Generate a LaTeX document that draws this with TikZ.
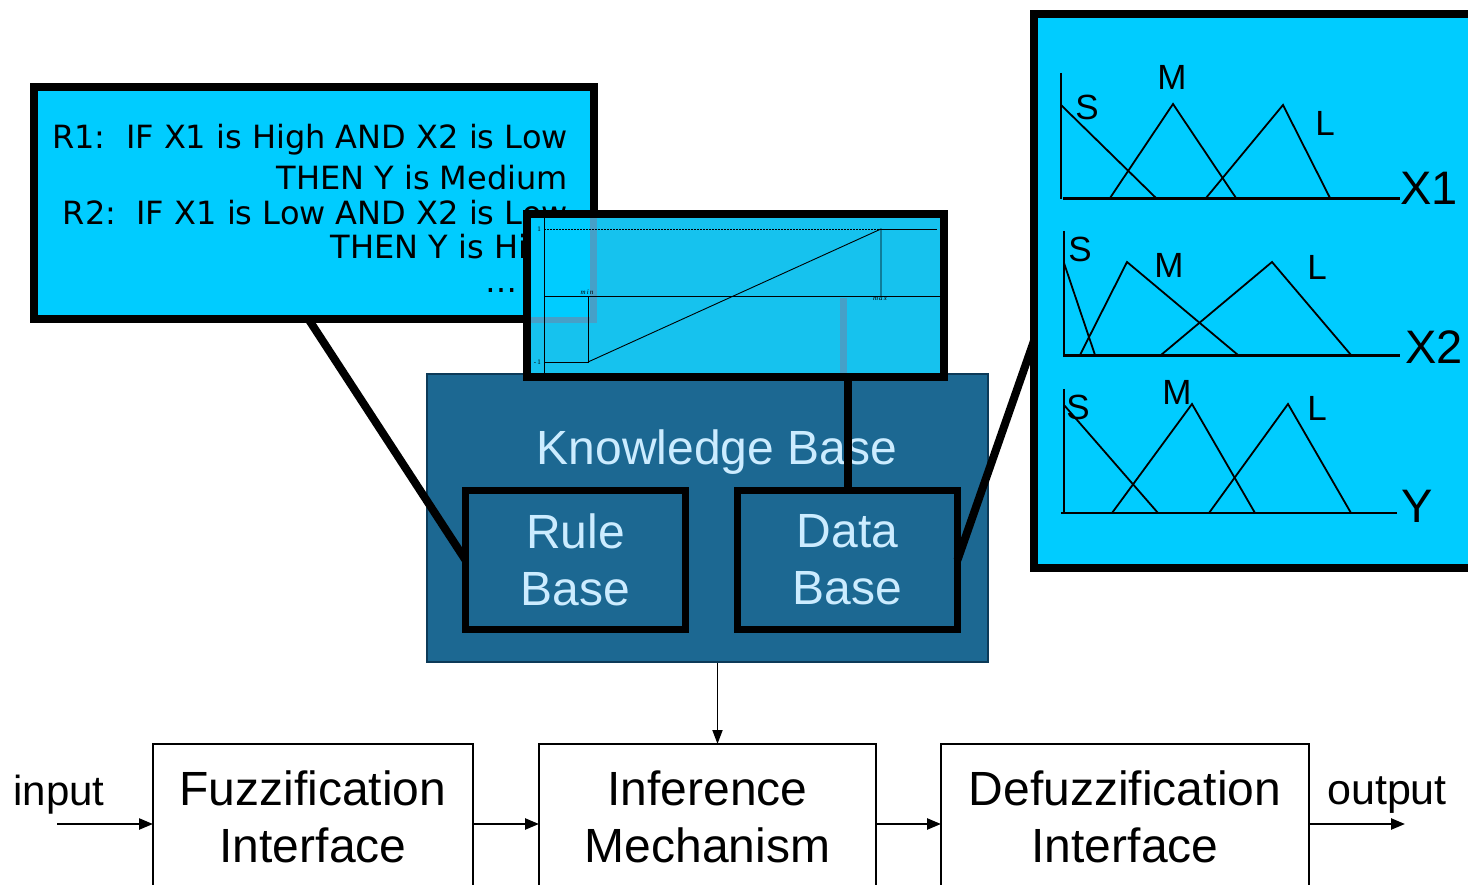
\documentclass[tikz,border=0pt]{standalone}
\usepackage{fontspec}
\setmainfont{Liberation Sans}
\newfontfamily\rulefont{DejaVu Sans}
\newfontfamily\plotfont{Liberation Serif}
\usetikzlibrary{arrows.meta, calc}

\begin{document}
\begin{tikzpicture}[x=1pt,y=-1pt,
  panel/.style={draw=black,line width=8pt,inner sep=0pt,outer sep=0pt},
  kbbox/.style={draw=black,line width=7pt,fill=kbblue,inner sep=0pt,outer sep=0pt,
    text=kbtext,align=center,font=\fontsize{48}{57}\selectfont},
  block/.style={draw=black,line width=1.6pt,inner sep=0pt,outer sep=0pt,
    align=center,font=\fontsize{48}{57}\selectfont,text depth=14pt},
  ruletext/.style={font=\rulefont\fontsize{32}{32}\selectfont,inner sep=0pt,
    text height=23pt,text depth=0pt},
  flow/.style={line width=2.4pt,-{Triangle[length=14pt,width=11pt]}},
  link/.style={line width=8pt},
  mf/.style={line width=1.8pt},
  mflabel/.style={font=\fontsize{35}{35}\selectfont,inner sep=0pt,
    text height=25pt,text depth=0pt},
  axislabel/.style={font=\fontsize{47}{47}\selectfont,inner sep=0pt,
    text height=34pt,text depth=0pt},
  ticklabel/.style={font=\plotfont\fontsize{7}{7}\selectfont,inner sep=0pt}]
  \definecolor{cyanpanel}{RGB}{0,204,255}
  \definecolor{dotcyan}{RGB}{22,194,238}
  \definecolor{dotshade}{RGB}{70,160,200}
  \definecolor{kbblue}{RGB}{28,104,146}
  \definecolor{kbline}{RGB}{12,58,88}
  \definecolor{kbtext}{RGB}{204,236,255}

  \useasboundingbox (0,0) rectangle (1468,885);
  \clip (0,0) rectangle (1468,885);

  % knowledge base with its two parts
  \node[draw=kbline,line width=1.2pt,fill=kbblue,minimum width=561,minimum height=288,
    inner sep=0pt] (kb) at (707.5,518) {};
  \node[font=\fontsize{48}{48}\selectfont,text=kbtext,inner sep=0pt,
    text height=34pt,text depth=0pt] (kbtitle) at (717,447) {Knowledge Base};
  \node[kbbox,minimum width=220,minimum height=139] (rulebase) at (575.5,560) {Rule\\Base};
  \node[kbbox,minimum width=220,minimum height=139] (database) at (847.5,560) {Data\\Base};

  % rule panel
  \node[panel,fill=cyanpanel,minimum width=560,minimum height=232] (rules) at (314,203) {};
  \foreach \ypos/\ruletxt in {137/{R1:\ \ IF X1 is High AND X2 is Low},
                              178/{THEN Y is Medium},
                              213/{R2:\ \ IF X1 is Low AND X2 is Low},
                              247/{THEN Y is High}}
    \node[ruletext,anchor=east] at (568,\ypos) {\ruletxt};
  \node[ruletext,anchor=base east] (dots) at (518,293) {\dots};

  % zoom lines
  \coordinate (rulefoot) at ($(rules.south west)!0.49!(rules.south east)$);
  \draw[link] (rulefoot) -- (rulebase.west);

  % normalisation panel
  \node[panel,fill=dotcyan,minimum width=417,minimum height=163] (midpanel) at (735.5,295.5) {};
  \fill[cyanpanel] (531,218) rectangle (590,317);
  \fill[dotshade] (590,218) rectangle (597,323);
  \fill[dotshade] (531,317) rectangle (597,323);
  \fill[dotshade] (840,298) rectangle (847,373);
  \begin{scope}[line width=0.9pt]
    \draw (544,218) -- (544,376);
    \draw[dash pattern=on 2pt off 1pt] (544,229) -- (881,229);
    \draw (881,229) -- (937,229);
    \draw (544,296) -- (942,296);
    \draw (544,362) -- (588,362) -- (588,296);
    \draw (588,362) -- (881,229) -- (881,296);
  \end{scope}
  \node[ticklabel,anchor=east] (one) at (541,229) {1};
  \node[ticklabel,anchor=east] (minusone) at (541,362) {-\,1};
  \node[ticklabel,anchor=south] (minlbl) at (587,295) {\itshape m\,i\,n};
  \node[ticklabel,anchor=north] (maxlbl) at (880,297) {\itshape m\,a\,x};
  \draw[link] (database.north |- midpanel.south) -- (database.north);

  % membership panel
  \node[panel,fill=cyanpanel,minimum width=466,minimum height=554] (mfpanel) at (1267,291) {};
  \coordinate (mffoot) at ($(mfpanel.north west)!0.59!(mfpanel.south west)$);
  \draw[link] (mffoot) -- (database.east);

  % X1
  \draw[mf] (1061,73) -- (1061,199);
  \draw[line width=3pt] (1063,199) -- (1400,199);
  \draw[mf] (1061,105) -- (1156,198);
  \draw[mf] (1110,198) -- (1173,104) -- (1236,198);
  \draw[mf] (1206,198) -- (1283,105) -- (1330,198);
  \node[mflabel] (s1) at (1087,107) {S};
  \node[mflabel] (m1) at (1172,77) {M};
  \node[mflabel] (l1) at (1325,123) {L};
  \node[axislabel] (x1) at (1429,188) {X1};

  % X2
  \draw[mf] (1064,231) -- (1064,357);
  \draw[line width=3pt] (1063,356) -- (1400,356);
  \draw[mf] (1064,263) -- (1095,355);
  \draw[mf] (1080,355) -- (1127,262) -- (1238,355);
  \draw[mf] (1161,355) -- (1272,262) -- (1351,355);
  \node[mflabel] (s2) at (1080,249) {S};
  \node[mflabel] (m2) at (1169,265) {M};
  \node[mflabel] (l2) at (1317,267) {L};
  \node[axislabel] (x2) at (1434,347) {X2};

  % Y
  \draw[mf] (1064,389) -- (1064,514);
  \draw[line width=2pt] (1061,513) -- (1397,513);
  \draw[mf] (1064,405) -- (1158,513);
  \draw[mf] (1112,513) -- (1192,404) -- (1255,513);
  \draw[mf] (1209,513) -- (1288,404) -- (1351,513);
  \node[mflabel] (s3) at (1078,407) {S};
  \node[mflabel] (m3) at (1177,392) {M};
  \node[mflabel] (l3) at (1317,408) {L};
  \node[axislabel] (y) at (1417,505) {Y};

  % controller chain
  \node[block,minimum width=320,minimum height=160] (fuzz) at (313,824) {Fuzzification\\Interface};
  \node[block,minimum width=337,minimum height=160] (infer) at (707.5,824) {Inference\\Mechanism};
  \node[block,minimum width=368,minimum height=160] (defuzz) at (1125,824) {Defuzzification\\Interface};

  \coordinate (inend) at (57,824);
  \coordinate (outend) at (1405,824);
  \node[font=\fontsize{42}{42}\selectfont,inner sep=0pt] (input) at (59,795) {input};
  \node[font=\fontsize{43}{43}\selectfont,inner sep=0pt] (output) at (1387,795) {output};

  \draw[flow] (inend) -- (fuzz.west);
  \draw[flow] (fuzz.east) -- (infer.west);
  \draw[flow] (infer.east) -- (defuzz.west);
  \draw[flow] (defuzz.east) -- (outend);
  \draw[line width=1.8pt,-{Triangle[length=14pt,width=10pt]}]
    ([xshift=10pt]kb.south) -- ([xshift=10pt]infer.north);
\end{tikzpicture}
\end{document}
